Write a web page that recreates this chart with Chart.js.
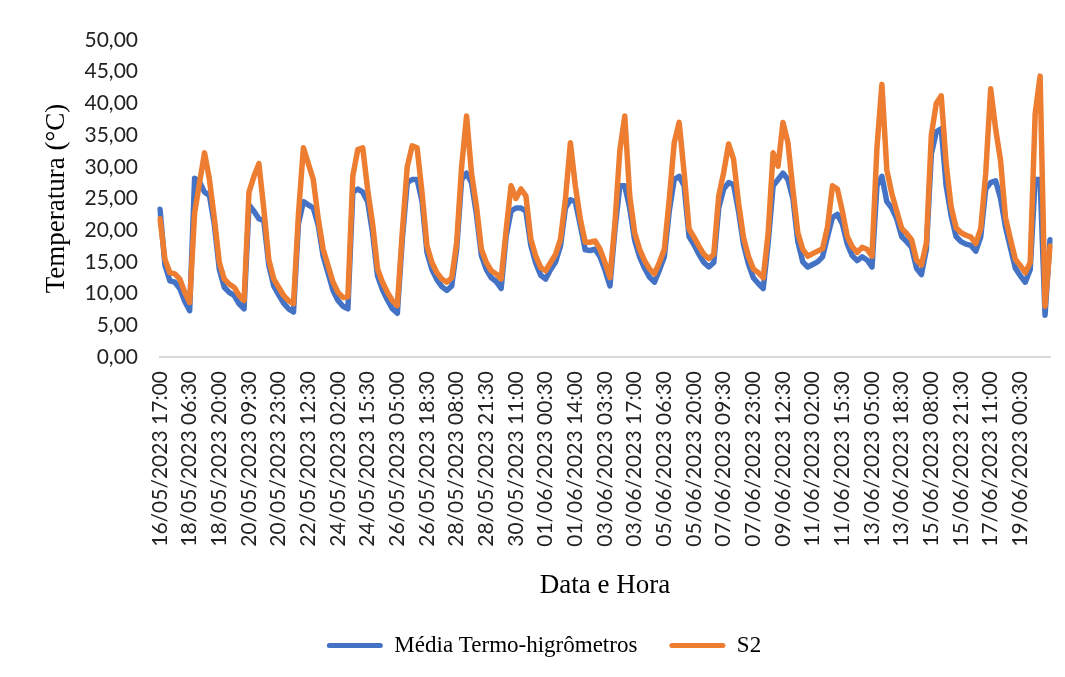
<!DOCTYPE html>
<html lang="pt">
<head>
<meta charset="utf-8">
<title>Temperatura - Data e Hora</title>
<script src="https://cdn.jsdelivr.net/npm/chart.js@4.4.1/dist/chart.umd.min.js"></script>
<style>
  html, body { margin: 0; padding: 0; background: #ffffff; }
  #wrap { width: 1065px; height: 677px; }
</style>
</head>
<body>
<div id="wrap"><canvas id="tempChart" width="1065" height="677"></canvas></div>
<script>
// Labels shown on the x axis (one every 6 points)
const tickLabels = [
  "16/05/2023 17:00", "18/05/2023 06:30", "18/05/2023 20:00", "20/05/2023 09:30",
  "20/05/2023 23:00", "22/05/2023 12:30", "24/05/2023 02:00", "24/05/2023 15:30",
  "26/05/2023 05:00", "26/05/2023 18:30", "28/05/2023 08:00", "28/05/2023 21:30",
  "30/05/2023 11:00", "01/06/2023 00:30", "01/06/2023 14:00", "03/06/2023 03:30",
  "03/06/2023 17:00", "05/06/2023 06:30", "05/06/2023 20:00", "07/06/2023 09:30",
  "07/06/2023 23:00", "09/06/2023 12:30", "11/06/2023 02:00", "11/06/2023 15:30",
  "13/06/2023 05:00", "13/06/2023 18:30", "15/06/2023 08:00", "15/06/2023 21:30",
  "17/06/2023 11:00", "19/06/2023 00:30"
];
const pointsPerTick = 6;

// Média Termo-higrômetros (°C)
const mediaTermo = [
  23.3, 14.5, 12.0, 11.8, 10.8, 8.8, 7.3, 28.2, 27.6, 26.0,
  25.5, 20.8, 13.8, 11.0, 10.2, 9.7, 8.4, 7.6, 24.0, 23.0,
  21.8, 21.5, 14.5, 11.2, 9.8, 8.5, 7.6, 7.1, 21.0, 24.5,
  24.0, 23.5, 20.8, 15.9, 13.2, 10.5, 8.9, 8.0, 7.6, 26.0,
  26.5, 26.0, 24.5, 19.5, 12.8, 10.6, 9.0, 7.6, 6.9, 18.5,
  27.5, 28.0, 28.0, 24.5, 16.5, 13.8, 12.2, 11.1, 10.5, 11.2,
  17.0, 28.0, 29.0, 27.5, 22.5, 16.0, 13.8, 12.5, 11.9, 10.8,
  19.0, 23.0, 23.5, 23.5, 23.0, 17.6, 14.8, 12.9, 12.3, 13.8,
  15.0, 17.5, 23.5, 24.8, 24.5, 20.8, 16.9, 16.8, 17.0, 15.8,
  13.7, 11.2, 20.0, 27.0, 27.0, 23.5, 18.4, 15.8, 14.0, 12.6,
  11.8, 13.7, 15.8, 23.0, 28.0, 28.5, 27.0, 19.0, 17.7, 16.2,
  14.9, 14.2, 14.9, 23.5, 26.5, 27.5, 27.2, 23.0, 17.8, 14.7,
  12.5, 11.6, 10.8, 18.0, 27.0, 28.0, 29.0, 28.0, 25.0, 18.2,
  15.0, 14.2, 14.6, 15.0, 15.8, 19.0, 22.0, 22.5, 21.0, 17.8,
  16.0, 15.2, 15.8, 15.3, 14.2, 27.0, 28.5, 24.5, 23.5, 21.8,
  19.0, 18.2, 17.3, 14.0, 13.0, 17.0, 32.0, 35.5, 36.0, 27.0,
  22.3, 19.0, 18.2, 17.8, 17.6, 16.7, 19.0, 26.5, 27.5, 27.8,
  25.0, 20.5, 17.2, 14.0, 12.8, 11.8, 13.8, 28.0, 28.0, 6.6,
  18.5
];

// S2 (°C)
const s2 = [
  21.8, 15.4, 13.3, 13.1, 12.3, 10.2, 8.6, 22.7, 27.5, 32.2,
  28.0, 21.8, 14.9, 12.3, 11.5, 11.0, 9.7, 8.9, 26.0, 28.5,
  30.5, 23.3, 15.4, 12.3, 11.0, 9.7, 8.9, 8.4, 22.5, 33.0,
  30.5, 28.0, 21.8, 17.0, 14.4, 11.8, 10.2, 9.4, 9.5, 28.6,
  32.7, 33.0, 26.4, 21.0, 13.9, 11.8, 10.2, 8.9, 8.1, 19.6,
  30.0, 33.3, 33.0, 25.9, 17.5, 14.9, 13.3, 12.3, 11.8, 12.5,
  18.0, 30.0, 38.0, 29.0, 23.8, 17.0, 14.9, 13.6, 13.1, 12.3,
  20.0, 27.0, 25.0, 26.5, 25.4, 18.6, 15.9, 14.1, 13.6, 14.9,
  16.2, 18.6, 24.9, 33.8, 27.0, 21.8, 18.1, 18.1, 18.3, 17.0,
  14.9, 12.5, 21.0, 32.6, 38.0, 25.4, 19.6, 17.0, 15.2, 13.9,
  13.1, 14.9, 17.0, 24.9, 33.8, 37.0, 29.1, 20.2, 18.9, 17.5,
  16.2, 15.5, 16.2, 25.4, 29.1, 33.6, 31.2, 24.4, 18.9, 15.9,
  13.9, 13.3, 12.5, 19.5, 32.2, 30.1, 37.0, 33.8, 26.4, 19.6,
  17.0, 15.9, 16.3, 16.7, 17.1, 20.5, 27.0, 26.5, 23.0, 19.0,
  17.4, 16.5, 17.3, 17.0, 15.9, 33.0, 43.0, 29.5, 25.8, 23.0,
  20.3, 19.5, 18.5, 15.3, 14.5, 18.0, 35.0, 40.0, 41.2, 30.5,
  23.7, 20.4, 19.6, 19.2, 18.9, 17.9, 20.3, 29.0, 42.3, 36.0,
  31.0, 22.0, 18.6, 15.4, 14.4, 13.3, 14.9, 38.4, 44.3, 8.0,
  17.5
];

// one category per point, only every 6th one carries a label
const categories = s2.map((v, i) =>
  (i % pointsPerTick === 0 && tickLabels[i / pointsPerTick]) || '');

const tickFont = { family: 'Lato', size: 21 };
const serifFont = { family: 'Liberation Serif', size: 27 };

const ctx = document.getElementById('tempChart');

new Chart(ctx, {
  type: 'line',
  data: {
    labels: categories,
    datasets: [
      {
        label: 'Média Termo-higrômetros',
        data: mediaTermo,
        borderColor: '#4472C4',
        backgroundColor: '#4472C4',
        borderWidth: 5.5,
        pointRadius: 0,
        tension: 0,
        borderJoinStyle: 'round',
        borderCapStyle: 'round',
        order: 2
      },
      {
        label: 'S2',
        data: s2,
        borderColor: '#ED7D31',
        backgroundColor: '#ED7D31',
        borderWidth: 5.5,
        pointRadius: 0,
        tension: 0,
        borderJoinStyle: 'round',
        borderCapStyle: 'round',
        order: 1
      }
    ]
  },
  options: {
    responsive: false,
    animation: false,
    layout: { padding: { left: 38, right: 15, top: 40, bottom: 10 } },
    scales: {
      x: {
        // gap under the axis comes from tickLength so the right edge is not pushed in
        grid: { display: false, drawTicks: true, tickLength: 14 },
        border: { color: '#d9d9d9', width: 2 },
        ticks: {
          autoSkip: false,
          maxRotation: 90,
          minRotation: 90,
          padding: 0,
          color: '#222222',
          font: { family: 'Lato', size: 21, lineHeight: 0.6 }
        },
        title: {
          display: true,
          text: 'Data e Hora',
          color: '#000000',
          font: serifFont,
          padding: { top: 0, bottom: 0 }
        },
        afterFit: function(scale) { scale.height = 245; }
      },
      y: {
        min: 0,
        max: 50,
        grid: { display: false, drawTicks: false },
        border: { display: false },
        ticks: {
          stepSize: 5,
          padding: 22,
          color: '#222222',
          font: tickFont,
          callback: function(value) { return value.toFixed(2).replace('.', ','); }
        },
        title: {
          display: true,
          text: 'Temperatura (°C)',
          color: '#000000',
          font: serifFont,
          padding: { top: 3, bottom: 0 }
        },
        afterFit: function(scale) { scale.width = 122; }
      }
    },
    plugins: {
      legend: {
        position: 'bottom',
        labels: {
          boxWidth: 56,
          boxHeight: 5,
          padding: 32,
          color: '#000000',
          useBorderRadius: true,
          font: { family: 'Liberation Serif', size: 23 },
          sort: (a, b) => a.datasetIndex - b.datasetIndex,
          generateLabels: function(chart) {
            const items = Chart.defaults.plugins.legend.labels.generateLabels(chart);
            items.forEach(item => { item.lineWidth = 0; item.borderRadius = 2.5; });
            return items;
          }
        }
      },
      tooltip: { enabled: false }
    }
  }
});
</script>
</body>
</html>
